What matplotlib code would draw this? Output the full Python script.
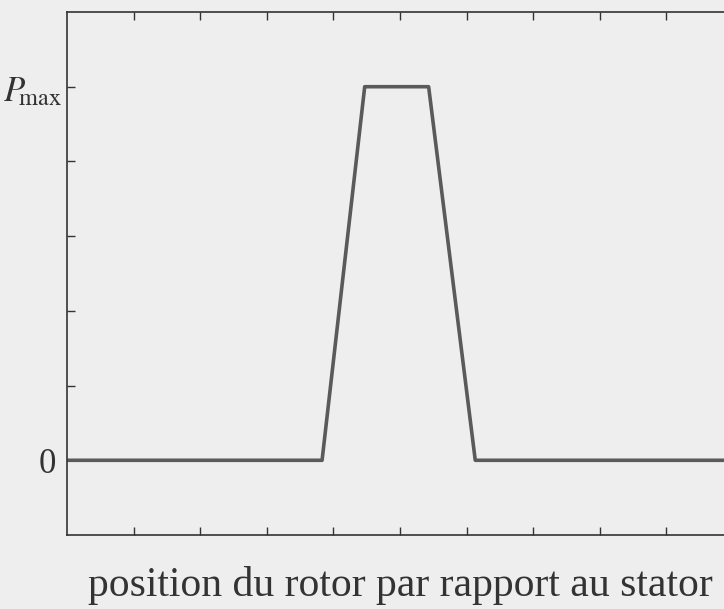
import matplotlib
matplotlib.use("Agg")
import matplotlib.pyplot as plt
import matplotlib.transforms as mtransforms

# data
x_pos = [0.0, 3.83, 4.47, 5.43, 6.13, 10.0]
power = [0.0, 0.0, 1.0, 1.0, 0.0, 0.0]
y_ticks = [0.0, 0.2, 0.4, 0.6, 0.8, 1.0]
y_labels = ["0", "", "", "", "", r"$P_{\!\!\mathrm{max}}$"]
x_ticks = [1, 2, 3, 4, 5, 6, 7, 8, 9]
x_label = "position du rotor par rapport au stator"

plt.rcParams['font.family'] = ['Liberation Serif', 'DejaVu Serif']
plt.rcParams['mathtext.fontset'] = 'stix'

bg = '#eeeeee'
fig = plt.figure(figsize=(7.24, 6.09), dpi=100, facecolor=bg)
W, H = 724, 609
left, right, top, bottom = 67, 733, 12, 535
ax = fig.add_axes([left / W, (H - bottom) / H, (right - left) / W, (bottom - top) / H])
ax.set_facecolor(bg)

ax.plot(x_pos, power, color='#5a5a5a', linewidth=2.6, solid_joinstyle='round')

ax.set_xlim(0, 10)
ax.set_ylim(-0.2, 1.2)
ax.set_xticks(x_ticks)
ax.set_xticklabels([])
ax.set_yticks(y_ticks)
ax.set_yticklabels(y_labels, fontsize=25)
ax.tick_params(direction='in', length=6, width=1, color='#333333',
               top=True, right=False, pad=8)
ax.set_xlabel(x_label, fontsize=30, color='#333333', labelpad=14)
labels = ax.get_yticklabels()
for lab in labels:
    lab.set_color('#333333')
pm = labels[-1]
pm.set_fontsize(25)
pm.set_transform(pm.get_transform() + mtransforms.ScaledTranslation(6 / 100, -2 / 100, fig.dpi_scale_trans))
for s in ax.spines.values():
    s.set_color('#333333')
    s.set_linewidth(1.2)

fig.savefig('out.png', dpi=100, facecolor=bg)
